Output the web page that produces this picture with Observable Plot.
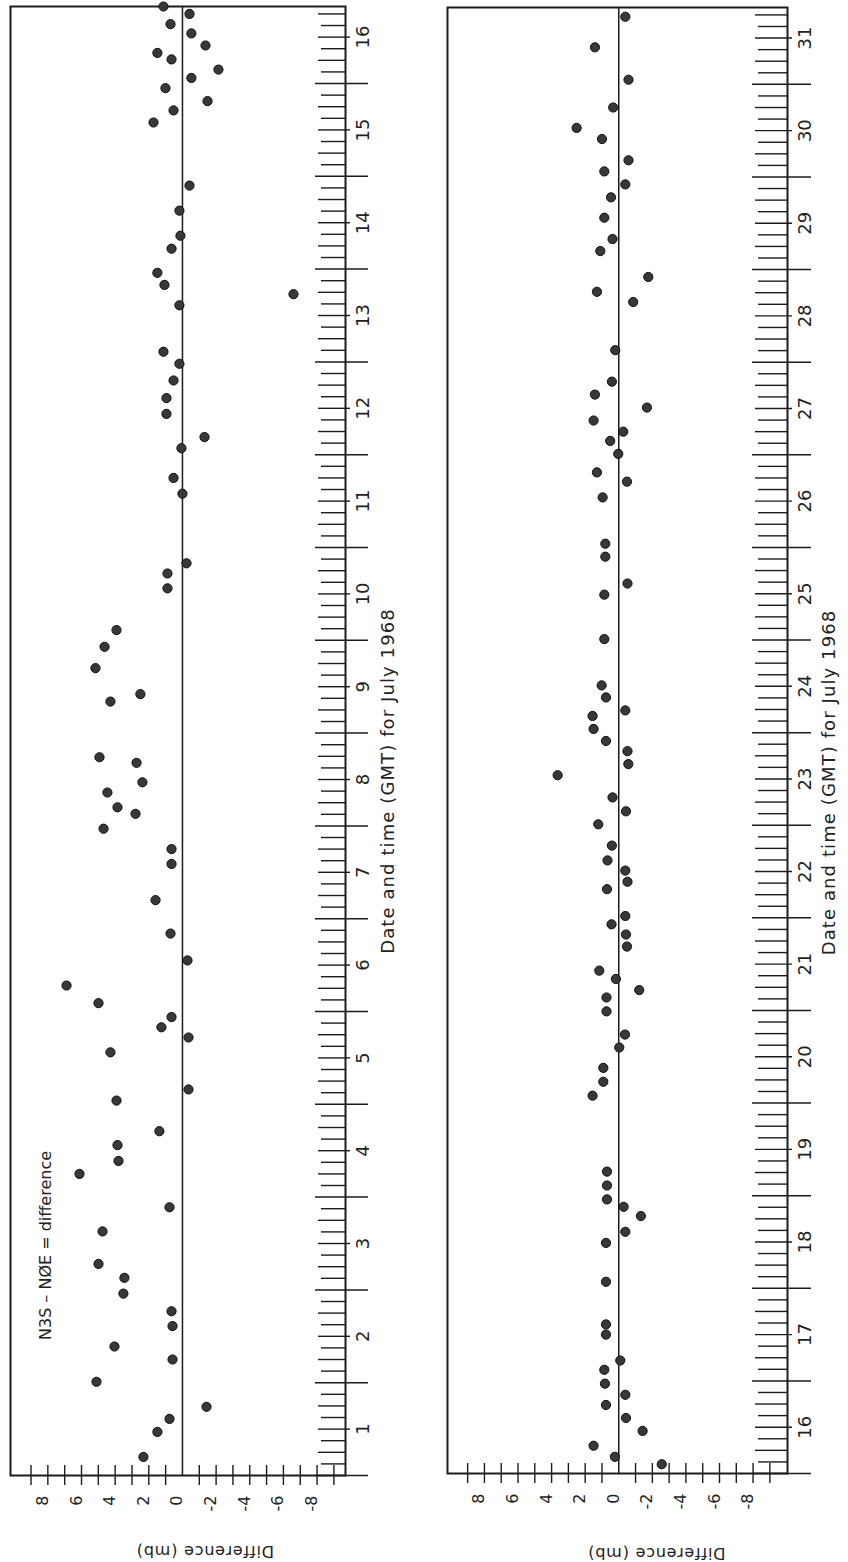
<!DOCTYPE html>
<html>
<head>
<meta charset="utf-8">
<script src="https://cdn.jsdelivr.net/npm/d3@7"></script>
<script src="https://cdn.jsdelivr.net/npm/@observablehq/plot@0.6"></script>
<style>
  html, body { margin: 0; padding: 0; background: #ffffff; }
  #wrap { position: relative; width: 848px; height: 1562px; overflow: hidden; }
  .panel { position: absolute; top: 0; }
</style>
</head>
<body>
<div id="wrap">
  <div class="panel" id="left" style="left:0px"></div>
  <div class="panel" id="right" style="left:424px"></div>
</div>
<script>
// ---- Data: July 1–16, 1968 (date = day + fraction of day GMT) ----
const leftDates = [16.83, 16.75, 16.64, 16.54, 16.41, 16.33, 16.26, 16.15, 16.06, 15.95,
  15.81, 15.71, 15.58, 14.90, 14.63, 14.36, 14.22, 13.96, 13.83, 13.73,
  13.61, 13.11, 12.98, 12.80, 12.61, 12.44, 12.19, 12.07, 11.75, 11.58,
  10.83, 10.72, 10.56, 10.11, 9.93, 9.70, 9.42, 9.34, 8.74, 8.68,
  8.47, 8.36, 8.20, 8.13, 7.97, 7.75, 7.59, 7.20, 6.84, 6.55,
  6.28, 6.09, 5.94, 5.83, 5.72, 5.56, 5.16, 5.04, 4.71, 4.56,
  4.39, 4.25, 3.89, 3.63, 3.28, 3.13, 2.96, 2.77, 2.61, 2.39,
  2.25, 2.01, 1.74, 1.61, 1.47, 1.20];
const leftDiffs = [1.13, -0.42, 0.71, -0.53, -1.37, 1.49, 0.65, -2.14, -0.53, 1.01,
  -1.49, 0.53, 1.72, -0.42, 0.18, 0.12, 0.65, 1.49, 1.07, -6.6,
  0.18, 1.13, 0.18, 0.53, 0.95, 0.95, -1.31, 0.06, 0.53, 0.0,
  -0.24, 0.89, 0.89, 3.92, 4.63, 5.17, 2.50, 4.28, 4.93, 2.73,
  2.38, 4.46, 3.86, 2.79, 4.69, 0.65, 0.65, 1.60, 0.71, -0.30,
  6.89, 4.99, 0.65, 1.25, -0.36, 4.28, -0.36, 3.92, 1.37, 3.86,
  3.80, 6.12, 0.77, 4.75, 4.99, 3.45, 3.51, 0.65, 0.59, 4.04,
  0.59, 5.11, -1.43, 0.77, 1.49, 2.32];

// ---- Data: July 16–31, 1968 ----
const rightDates = [31.73, 31.40, 31.05, 30.75, 30.53, 30.41, 30.18, 30.06, 29.92, 29.78,
  29.56, 29.33, 29.20, 28.92, 28.76, 28.65, 28.13, 27.79, 27.65, 27.51,
  27.37, 27.25, 27.15, 27.01, 26.81, 26.71, 26.54, 26.04, 25.90, 25.61,
  25.49, 25.01, 24.51, 24.38, 24.24, 24.18, 24.04, 23.91, 23.80, 23.66,
  23.54, 23.30, 23.15, 23.01, 22.78, 22.62, 22.51, 22.39, 22.31, 22.02,
  21.93, 21.82, 21.69, 21.43, 21.34, 21.22, 21.14, 20.99, 20.74, 20.60,
  20.38, 20.23, 20.08, 19.26, 19.11, 18.96, 18.88, 18.78, 18.61, 18.49,
  18.07, 17.61, 17.50, 17.22, 17.12, 16.97, 16.85, 16.74, 16.60, 16.46,
  16.30, 16.18, 16.10];
const rightDiffs = [-0.39, 1.42, -0.58, 0.33, 2.51, 1.00, -0.58, 0.86, -0.39, 0.46,
  0.86, 0.37, 1.10, -1.76, 1.30, -0.86, 0.21, 0.41, 1.42, -1.68,
  1.50, -0.27, 0.51, 0.03, 1.30, -0.49, 0.96, 0.80, 0.80, -0.52,
  0.86, 0.86, 1.02, 0.76, -0.39, 1.56, 1.50, 0.76, -0.52, -0.57,
  3.64, 0.37, -0.43, 1.22, 0.41, 0.67, -0.39, -0.52, 0.70, -0.39,
  0.43, -0.43, -0.49, 1.16, 0.17, -1.22, 0.73, 0.73, -0.37, -0.03,
  0.92, 0.92, 1.56, 0.70, 0.70, 0.70, -0.29, -1.32, -0.39, 0.76,
  0.76, 0.76, 0.76, -0.09, 0.86, 0.82, -0.39, 0.76, -0.43, -1.42,
  1.50, 0.23, -2.56];

// ---- Tick labels and texts ----
const leftDayLabels = [1, 2, 3, 4, 5, 6, 7, 8, 9, 10, 11, 12, 13, 14, 15, 16];
const rightDayLabels = [16, 17, 18, 19, 20, 21, 22, 23, 24, 25, 26, 27, 28, 29, 30, 31];
const diffTickLabels = [8, 6, 4, 2, 0, -2, -4, -6, -8];
const diffTickMarks = [-9, -8, -7, -6, -5, -4, -3, -2, -1, 1, 2, 3, 4, 5, 6, 7, 8, 9];
const dateAxisTitle = "Date and time (GMT) for July 1968";
const diffAxisTitle = "Difference (mb)";
const noteText = "N3S – NØE = difference";

const INK = "#1c1c1c";
const FONT = "DejaVu Sans, Verdana, sans-serif";

function makePanel(cfg) {
  const pts = cfg.dates.map((d, i) => ({date: d, diff: cfg.diffs[i]}));
  const W = 424, H = 1562;
  const fw = W - cfg.ml - cfg.mr;          // frame width
  const fh = H - cfg.mt - cfg.mb;          // frame height
  const eighths = d3.range(Math.ceil(cfg.yDomain[0] * 8), Math.floor(cfg.yDomain[1] * 8) + 1).map(k => k / 8);
  const frac = v => Math.round((v - Math.floor(v)) * 8);
  const t3h = eighths.filter(v => frac(v) % 2 === 1);
  const t6h = eighths.filter(v => frac(v) === 2 || frac(v) === 6);
  const tNoon = eighths.filter(v => frac(v) === 4);
  const tMid = eighths.filter(v => frac(v) === 0 || frac(v) === 8);
  const L = cfg.tickLen;

  const marks = [
    // date axis ticks (3-hourly, inside the frame on its right edge)
    Plot.ruleY(t3h, {y: d => d, insetLeft: fw - L, stroke: INK, strokeWidth: 1.4}),
    Plot.ruleY(t6h, {y: d => d, insetLeft: fw - L - 3, stroke: INK, strokeWidth: 1.4}),
    Plot.ruleY(tNoon, {y: d => d, insetLeft: fw - L - 3, insetRight: -5, stroke: INK, strokeWidth: 1.4}),
    Plot.ruleY(tMid, {y: d => d, insetLeft: fw - L - 6, insetRight: -cfg.longOut, stroke: INK, strokeWidth: 1.5}),
    // difference axis ticks crossing the bottom edge
    Plot.ruleX(diffTickMarks, {x: d => d, insetTop: fh - 10, insetBottom: -10, stroke: INK, strokeWidth: 1.4}),
    // zero line
    Plot.ruleX([0], {stroke: INK, strokeWidth: 1.5}),
    Plot.frame({stroke: INK, strokeWidth: 2}),
    // points
    Plot.dot(pts, {x: "diff", y: "date", r: 4.6, fill: "#383838", stroke: "#111", strokeWidth: 1}),
    // difference tick labels
    Plot.text(diffTickLabels, {x: d => d, frameAnchor: "bottom", dy: 20, rotate: -90, textAnchor: "end",
      text: d => (d < 0 ? "-" + Math.abs(d) : String(d)), fontSize: 16, fill: "#222"}),
    // date tick labels centred on each day
    Plot.text(cfg.days, {y: d => d + 0.5, frameAnchor: "right", dx: 18, rotate: -90, textAnchor: "middle",
      text: d => String(d), fontSize: 18, fill: "#222"}),
    // axis titles
    Plot.text([dateAxisTitle], {text: d => d, frameAnchor: "right", dx: cfg.titleDx, dy: cfg.titleDy, rotate: -90,
      textAnchor: "middle", fontSize: 18, fill: "#222"}),
    Plot.text([diffAxisTitle], {text: d => d, frameAnchor: "bottom", dx: cfg.diffDx, dy: cfg.diffDy, rotate: 180,
      textAnchor: "middle", fontSize: 16, fill: "#222"})
  ];
  if (cfg.note) {
    marks.push(Plot.text([cfg.note], {text: d => d, frameAnchor: "bottom-left", dx: 40, dy: -230, rotate: -90,
      textAnchor: "middle", fontSize: 16, fill: "#222"}));
  }
  const svg = Plot.plot({
    width: W, height: H,
    marginLeft: cfg.ml, marginRight: cfg.mr, marginTop: cfg.mt, marginBottom: cfg.mb,
    style: {fontFamily: FONT, background: "transparent", overflow: "visible"},
    x: {domain: cfg.xDomain, axis: null},
    y: {domain: cfg.yDomain, axis: null},
    marks
  });
  d3.select(svg).selectAll("text")
    .filter(function () { return this.textContent === dateAxisTitle; })
    .attr("letter-spacing", "1.1px");
  d3.select(svg).selectAll("text")
    .filter(function () { return this.textContent === diffAxisTitle; })
    .attr("letter-spacing", "0.8px");
  return svg;
}

document.getElementById("left").appendChild(makePanel({
  dates: leftDates, diffs: leftDiffs, days: leftDayLabels,
  xDomain: [10.22, -9.69], yDomain: [1, 16.83],
  ml: 10, mr: 79, mt: 6, mb: 87,
  tickLen: 24, longOut: 23,
  titleDx: 43, titleDy: 40, diffDx: 27, diffDy: 70,
  note: noteText
}));

document.getElementById("right").appendChild(makePanel({
  dates: rightDates, diffs: rightDiffs, days: rightDayLabels,
  xDomain: [10.2, -10.05], yDomain: [16, 31.83],
  ml: 23, mr: 61, mt: 7, mb: 89,
  tickLen: 29, longOut: 24,
  titleDx: 42, titleDy: 42, diffDx: 39, diffDy: 74,
  note: null
}));
</script>
</body>
</html>
